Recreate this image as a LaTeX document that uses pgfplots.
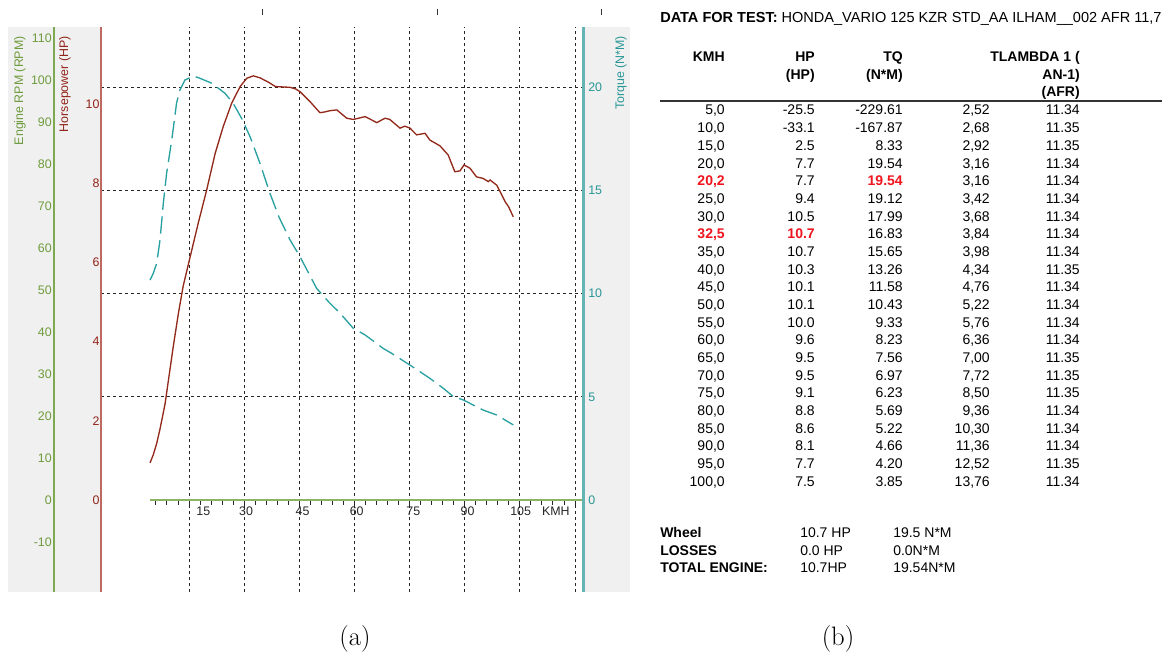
\documentclass[border=0pt]{standalone}
\usepackage{pgfplots}
\pgfplotsset{compat=1.18}
\usepackage{pgfplotstable}
\usepackage{fontspec}
\newfontfamily\af{Liberation Sans}
\definecolor{rpmtext}{RGB}{110,155,60}
\definecolor{rpmline}{RGB}{125,170,80}
\definecolor{hptext}{RGB}{145,35,25}
\definecolor{hpline}{RGB}{190,105,95}
\definecolor{hpcurve}{RGB}{145,40,25}
\definecolor{tqtext}{RGB}{40,150,150}
\definecolor{tqline}{RGB}{100,180,180}
\definecolor{tqcurve}{RGB}{40,160,160}
\definecolor{panel}{RGB}{240,240,240}
\definecolor{hl}{RGB}{240,20,30}
\definecolor{xline}{RGB}{140,180,100}

\pgfplotstableread{
v hp
4.4 0.94
5.3 1.15
6.2 1.43
7.0 1.75
7.6 2.02
8.5 2.44
9.4 3.03
10.7 3.87
12.1 4.71
13.4 5.40
15.3 6.14
17.5 6.99
19.8 7.83
22.1 8.75
24.3 9.43
26.6 10.02
28.9 10.44
30.7 10.65
32.5 10.71
34.3 10.66
36.6 10.55
38.5 10.44
42.5 10.42
44.0 10.38
45.2 10.31
47.9 10.06
50.6 9.78
52.0 9.80
53.3 9.83
55.2 9.85
57.9 9.64
59.7 9.61
62.9 9.68
66.1 9.53
68.3 9.64
69.6 9.61
72.4 9.39
73.7 9.44
75.1 9.39
76.9 9.22
79.2 9.26
80.5 9.09
83.3 8.94
85.5 8.71
87.3 8.29
88.7 8.31
89.8 8.46
91.4 8.38
93.2 8.16
95.0 8.12
96.4 8.04
96.9 8.08
98.7 7.95
100.1 7.70
101.0 7.53
101.9 7.41
103.2 7.15
}\hpdata

\pgfplotstableread{
v tq
4.4 10.66
5.3 11.0
6.2 11.47
7.1 12.6
8.0 14.38
8.9 15.84
10.3 17.45
11.6 19.23
12.5 19.87
13.9 20.36
16.2 20.55
18.0 20.44
21.2 20.2
24.8 19.71
27.0 19.23
29.3 18.5
31.6 17.61
34.3 16.32
37.0 14.87
39.5 13.7
42.5 12.6
45.2 11.79
49.7 10.26
53.0 9.6
56.1 9.05
59.7 8.32
62.9 8.0
67.8 7.35
70.1 7.11
75.1 6.54
80.5 5.9
84.2 5.41
86.9 5.01
89.6 4.85
95.0 4.36
98.7 4.12
103.2 3.64
}\tqdata

\newcommand\tf{\af\fontsize{10.5pt}{12pt}\selectfont}
\newcommand\ttf{\af\fontsize{10.9pt}{12pt}\selectfont}
\newcommand\lf{\af\fontsize{9.3pt}{11pt}\selectfont}
\newcommand\hlt[1]{\textcolor{hl}{\bfseries #1}}
\newcommand\trow[6]{%
  \pgfmathsetmacro\ty{115+#1*17.67}%
  \node[tx] at (725,\ty) {#2};
  \node[tx] at (815,\ty) {#3};
  \node[tx] at (903,\ty) {#4};
  \node[tx] at (990,\ty) {#5};
  \node[tx] at (1080,\ty) {#6};
}

\pgfplotsset{
  mainbox/.style={scale only axis, width=361.5pt, height=423.75pt,
    at={(75.75pt,-444pt)}, anchor=south west,
    xmin=-8.95, xmax=122.17},
  xstrip/.style={scale only axis, width=324.75pt, height=10pt,
    at={(112.5pt,-375pt)}, anchor=south west,
    xmin=4.38, xmax=122.17, ymin=0, ymax=1,
    axis y line=none, axis x line*=bottom},
}

\begin{document}
\begin{tikzpicture}[x=0.75pt,y=-0.75pt,
  tx/.style={anchor=base east,inner sep=0pt,font=\tf},
  tl/.style={anchor=base west,inner sep=0pt,font=\tf}]
\path[use as bounding box] (0,0) rectangle (1169,655);
\fill[panel] (8,27) rectangle (101,592);
\fill[panel] (583,27) rectangle (630,592);

% grid
\begin{axis}[mainbox, ymin=-4.459, ymax=22.928,
  axis line style={draw=none},
  xtick={15,30,...,120}, ytick={5,10,15,20},
  xticklabels={}, yticklabels={},
  major tick length=0pt,
  grid=major, grid style={black!85, line width=0.75pt, dash pattern=on 2.25pt off 2.25pt}]
\end{axis}

% x axis strip: line and ticks
\begin{axis}[xstrip,
  x axis line style={xline, line width=1.5pt, -},
  xtick={6,9,...,120}, xticklabels={},
  xtick align=outside, xtick pos=bottom,
  major tick length=3.5pt,
  xtick style={draw=black!85, line width=0.75pt}]
\addplot[draw=none] coordinates {(50,0.5)};
\end{axis}

% x axis strip: labels
\begin{axis}[xstrip,
  x axis line style={draw=none},
  xtick={18.9,30.5,45.9,60.6,76.0,90.75,105.2,114.8},
  xticklabels={15,30,45,60,75,90,105,KMH},
  major tick length=0pt,
  xticklabel style={font=\lf, text=black!85, anchor=north, inner sep=0pt, yshift=-5pt}]
\end{axis}

% torque axis
\begin{axis}[mainbox, ymin=-4.459, ymax=22.928,
  axis x line=none, axis y line*=right,
  y axis line style={tqline, line width=2.25pt, -},
  ytick={0,5,10,15,20}, yticklabels={0,5,10,15,20},
  major tick length=0pt,
  yticklabel style={font=\lf, text=tqtext, anchor=west, inner sep=0pt, xshift=3.75pt}]
\addplot[tqcurve, line width=1pt, dash pattern=on 13pt off 5pt] table[x=v,y=tq]{\tqdata};
\end{axis}

% HP axis
\begin{axis}[mainbox, ymin=-2.323, ymax=11.944,
  axis x line=none, axis y line*=left,
  y axis line style={hpline, line width=1.1pt, -},
  ytick={0,2,4,6,8,10}, yticklabels={0,2,4,6,8,10},
  major tick length=0pt,
  yticklabel style={font=\lf, text=hptext, anchor=east, inner sep=0pt, xshift=-1pt}]
\addplot[hpcurve, line width=1pt] table[x=v,y=hp]{\hpdata};
\end{axis}

% RPM axis
\begin{axis}[scale only axis, width=35.25pt, height=423.75pt,
  at={(40.5pt,-444pt)}, anchor=south west,
  xmin=0, xmax=1, ymin=-21.9, ymax=112.62,
  axis x line=none, axis y line*=left,
  y axis line style={rpmline, line width=1.1pt, -},
  ytick={-10,0,10,20,30,40,50,60,70,80,90,100,110},
  yticklabels={-10,0,10,20,30,40,50,60,70,80,90,100,110},
  major tick length=0pt,
  yticklabel style={font=\lf, text=rpmtext, anchor=east, inner sep=0pt, xshift=-1.5pt}]
\end{axis}

% axis titles
\node[rotate=90, anchor=east, inner sep=0pt, font=\lf, text=rpmtext] at (20,36) {Engine RPM (RPM)};
\node[rotate=90, anchor=east, inner sep=0pt, font=\lf, text=hptext] at (65,36) {Horsepower (HP)};
\node[rotate=90, anchor=east, inner sep=0pt, font=\lf, text=tqtext] at (621,36) {Torque (N*M)};

% top marks
\draw[black!80, line width=0.75pt] (262,9)--(262,15) (437,9)--(437,15) (601,9)--(601,15);

% table
\node[anchor=base west, inner sep=0pt, font=\ttf] at (660,23) {\bfseries DATA FOR TEST:\mdseries{} HONDA\_VARIO 125 KZR STD\_AA ILHAM\_\_002 AFR 11,7};
\node[tx] at (725,62) {\bfseries KMH};
\node[tx] at (815,62) {\bfseries HP};
\node[tx] at (815,80) {\bfseries (HP)};
\node[tx] at (903,62) {\bfseries TQ};
\node[tx] at (903,80) {\bfseries (N*M)};
\node[tx] at (1080,62) {\bfseries TLAMBDA 1 (};
\node[tx] at (1080,80) {\bfseries AN-1)};
\node[tx] at (1080,97) {\bfseries (AFR)};
\draw[black!80, line width=1.1pt] (660,101) -- (1162,101);

\trow{0}{5,0}{-25.5}{-229.61}{2,52}{11.34}
\trow{1}{10,0}{-33.1}{-167.87}{2,68}{11.35}
\trow{2}{15,0}{2.5}{8.33}{2,92}{11.35}
\trow{3}{20,0}{7.7}{19.54}{3,16}{11.34}
\trow{4}{\hlt{20,2}}{7.7}{\hlt{19.54}}{3,16}{11.34}
\trow{5}{25,0}{9.4}{19.12}{3,42}{11.34}
\trow{6}{30,0}{10.5}{17.99}{3,68}{11.34}
\trow{7}{\hlt{32,5}}{\hlt{10.7}}{16.83}{3,84}{11.34}
\trow{8}{35,0}{10.7}{15.65}{3,98}{11.34}
\trow{9}{40,0}{10.3}{13.26}{4,34}{11.35}
\trow{10}{45,0}{10.1}{11.58}{4,76}{11.34}
\trow{11}{50,0}{10.1}{10.43}{5,22}{11.34}
\trow{12}{55,0}{10.0}{9.33}{5,76}{11.34}
\trow{13}{60,0}{9.6}{8.23}{6,36}{11.34}
\trow{14}{65,0}{9.5}{7.56}{7,00}{11.35}
\trow{15}{70,0}{9.5}{6.97}{7,72}{11.35}
\trow{16}{75,0}{9.1}{6.23}{8,50}{11.35}
\trow{17}{80,0}{8.8}{5.69}{9,36}{11.34}
\trow{18}{85,0}{8.6}{5.22}{10,30}{11.34}
\trow{19}{90,0}{8.1}{4.66}{11,36}{11.34}
\trow{20}{95,0}{7.7}{4.20}{12,52}{11.35}
\trow{21}{100,0}{7.5}{3.85}{13,76}{11.34}

\node[tl] at (660,537) {\bfseries Wheel};
\node[tl] at (660,555) {\bfseries LOSSES};
\node[tl] at (660,572) {\bfseries TOTAL ENGINE:};
\node[tl] at (800,537) {10.7 HP};
\node[tl] at (800,555) {0.0 HP};
\node[tl] at (800,572) {10.7HP};
\node[tl] at (893,537) {19.5 N*M};
\node[tl] at (893,555) {0.0N*M};
\node[tl] at (893,572) {19.54N*M};

% captions
\node[anchor=base, inner sep=0pt, font=\fontsize{20pt}{22pt}\selectfont] at (355,645) {(a)};
\node[anchor=base, inner sep=0pt, font=\fontsize{20pt}{22pt}\selectfont] at (838,645) {(b)};
\end{tikzpicture}
\end{document}
